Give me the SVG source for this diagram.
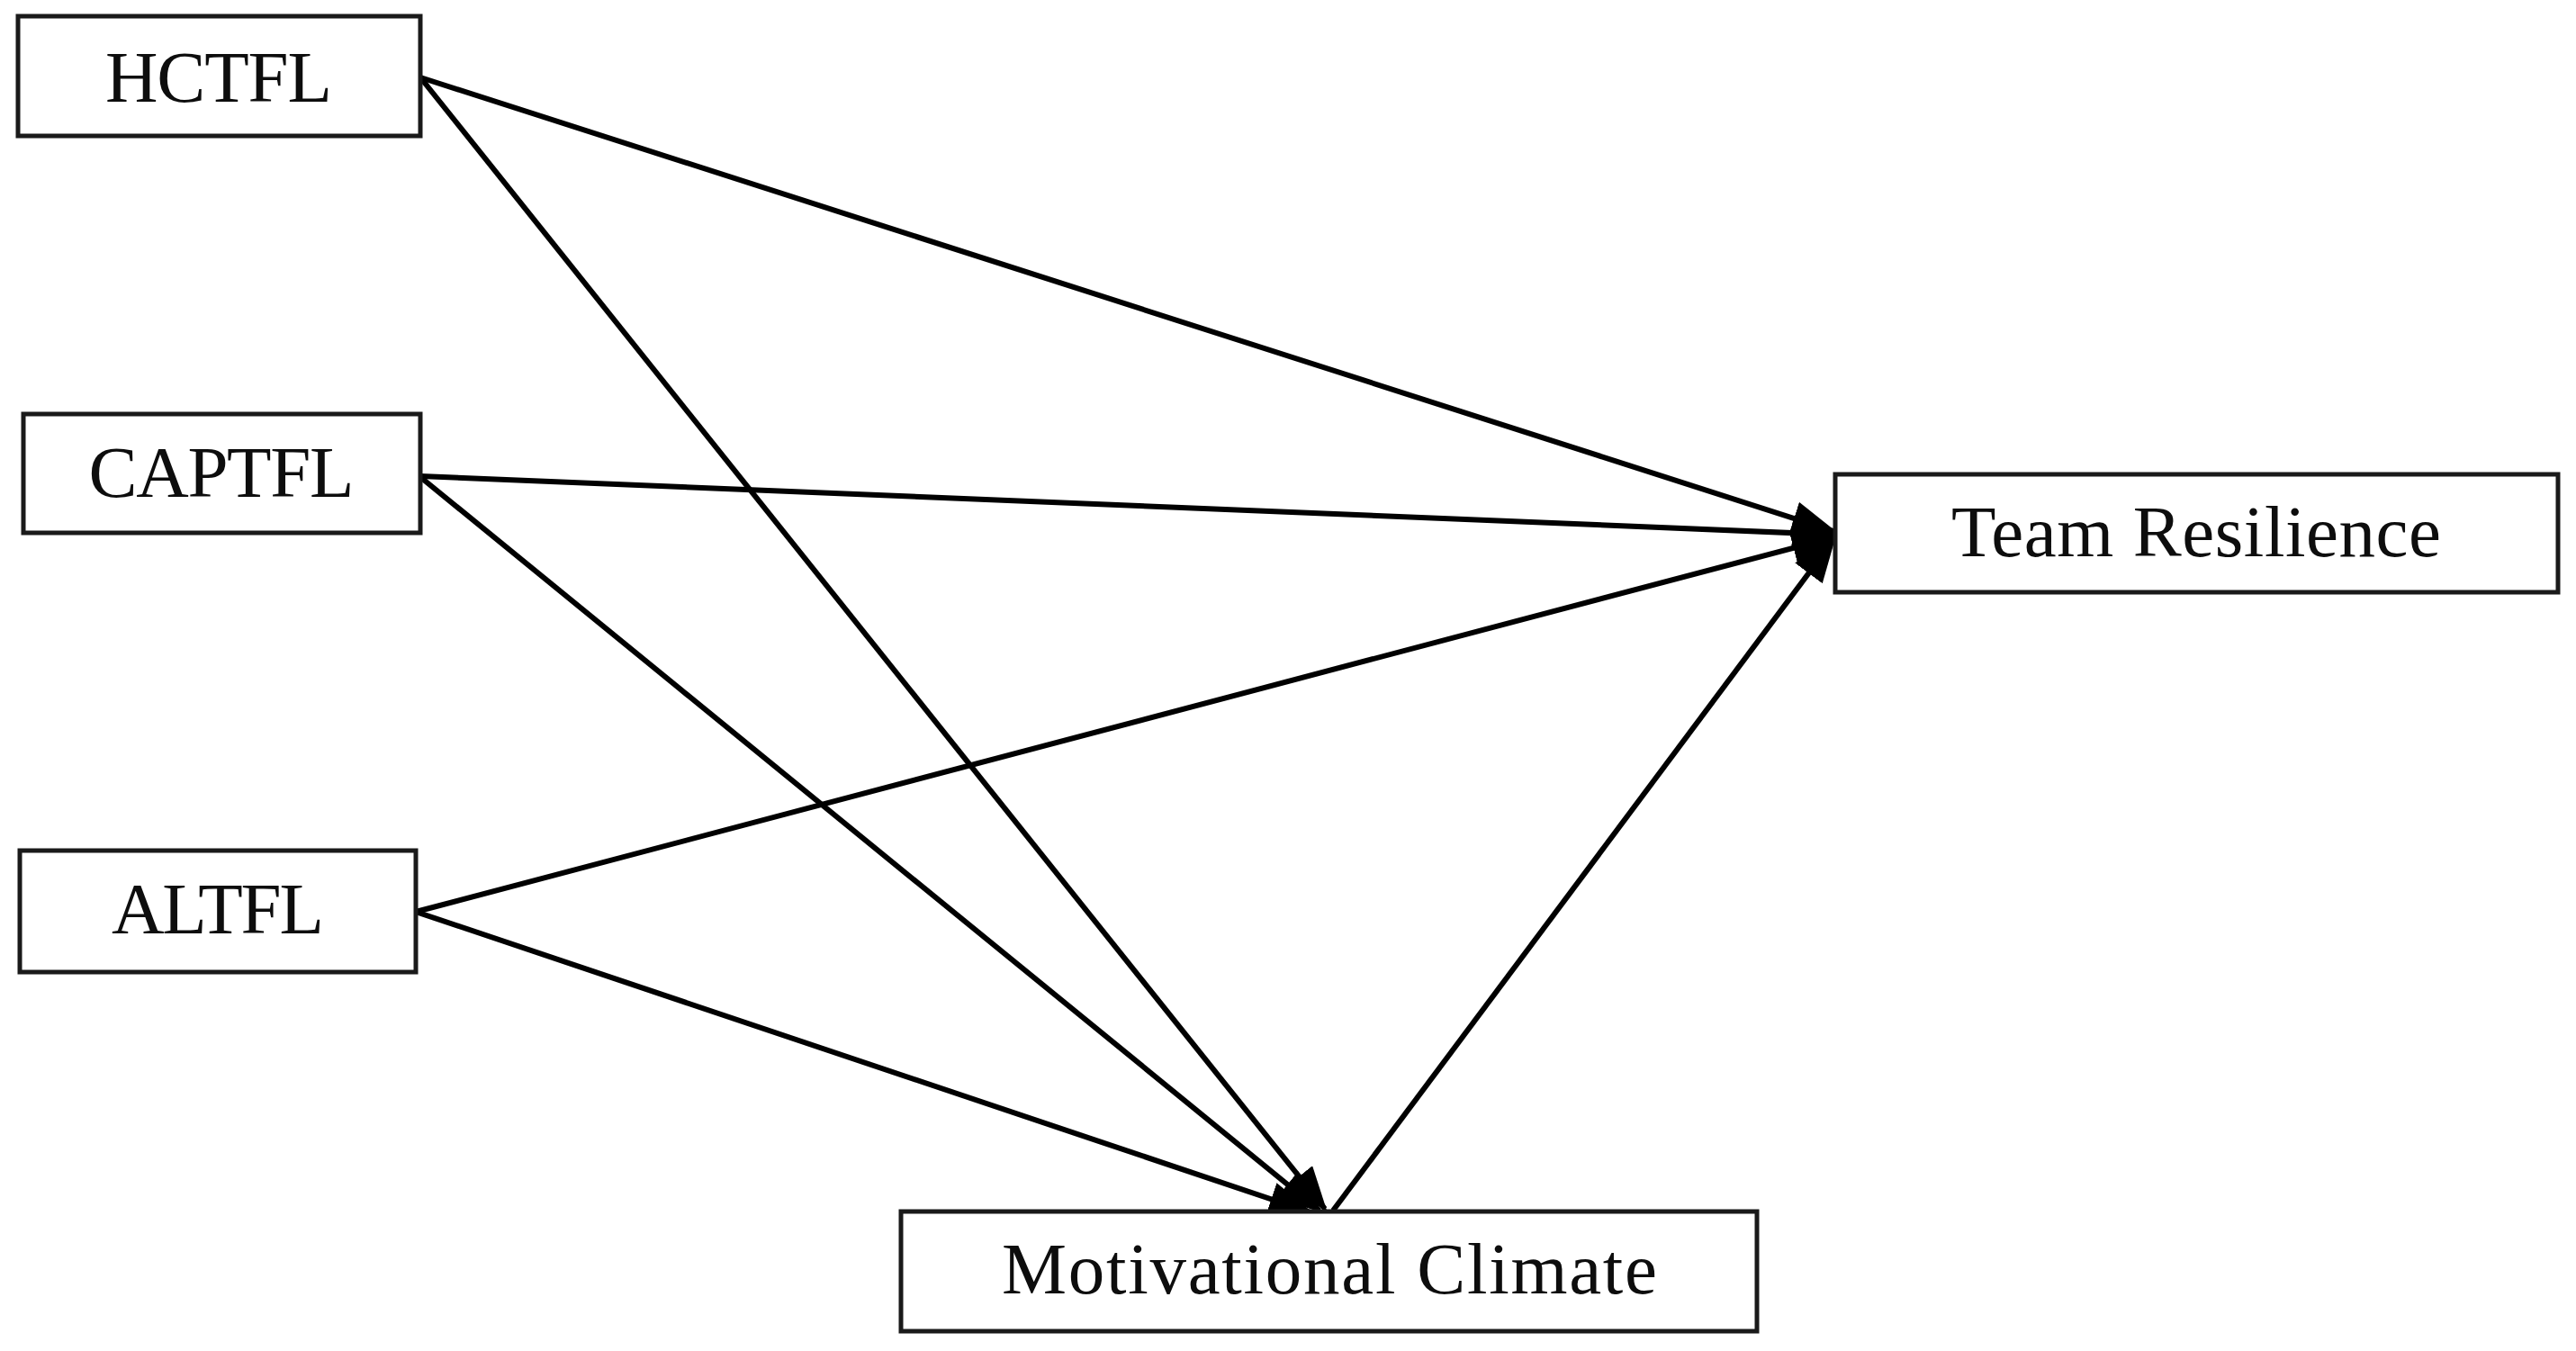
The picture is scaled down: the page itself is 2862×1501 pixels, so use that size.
<svg xmlns="http://www.w3.org/2000/svg" width="2862" height="1501" viewBox="0 0 2862 1501">
<style>
.box{fill:#fff;stroke:#1a1a1a;stroke-width:5}
.lbl{font-family:"Liberation Serif","Times New Roman",serif;font-size:81px;fill:#0d0d0d;text-anchor:middle}
.conn{stroke:#000;stroke-width:6;fill:none;marker-end:url(#ah)}
</style>
<defs>
<marker id="ah" markerUnits="userSpaceOnUse" markerWidth="52" markerHeight="40" refX="46" refY="19" orient="auto">
<path d="M0,0 L50,19 L0,38 z" fill="#000"/>
</marker>
</defs>
<rect width="2862" height="1501" fill="#fff"/>
<g id="connectors">
<line class="conn" x1="467" y1="86" x2="2037" y2="590"/>
<line class="conn" x1="467" y1="86" x2="1472" y2="1343"/>
<line class="conn" x1="467" y1="529" x2="2037" y2="594"/>
<line class="conn" x1="467" y1="530" x2="1466" y2="1345"/>
<line class="conn" x1="462" y1="1013" x2="2037" y2="597"/>
<line class="conn" x1="462" y1="1013" x2="1456" y2="1347"/>
<line class="conn" x1="1481" y1="1345" x2="2037" y2="600"/>
</g>
<g id="hctfl">
<rect class="box" x="20" y="18" width="447" height="133"/>
<text class="lbl" x="243" y="113" textLength="252">HCTFL</text>
</g>
<g id="captfl">
<rect class="box" x="26" y="460" width="441" height="132"/>
<text class="lbl" x="246" y="552" textLength="295">CAPTFL</text>
</g>
<g id="altfl">
<rect class="box" x="22" y="945" width="440" height="135"/>
<text class="lbl" x="242" y="1037" textLength="236">ALTFL</text>
</g>
<g id="team-resilience">
<rect class="box" x="2039" y="527" width="803" height="131"/>
<text class="lbl" x="2440" y="618" textLength="544">Team Resilience</text>
</g>
<g id="motivational-climate">
<rect class="box" x="1001" y="1346" width="951" height="133"/>
<text class="lbl" x="1477" y="1437" textLength="728">Motivational Climate</text>
</g>
</svg>
